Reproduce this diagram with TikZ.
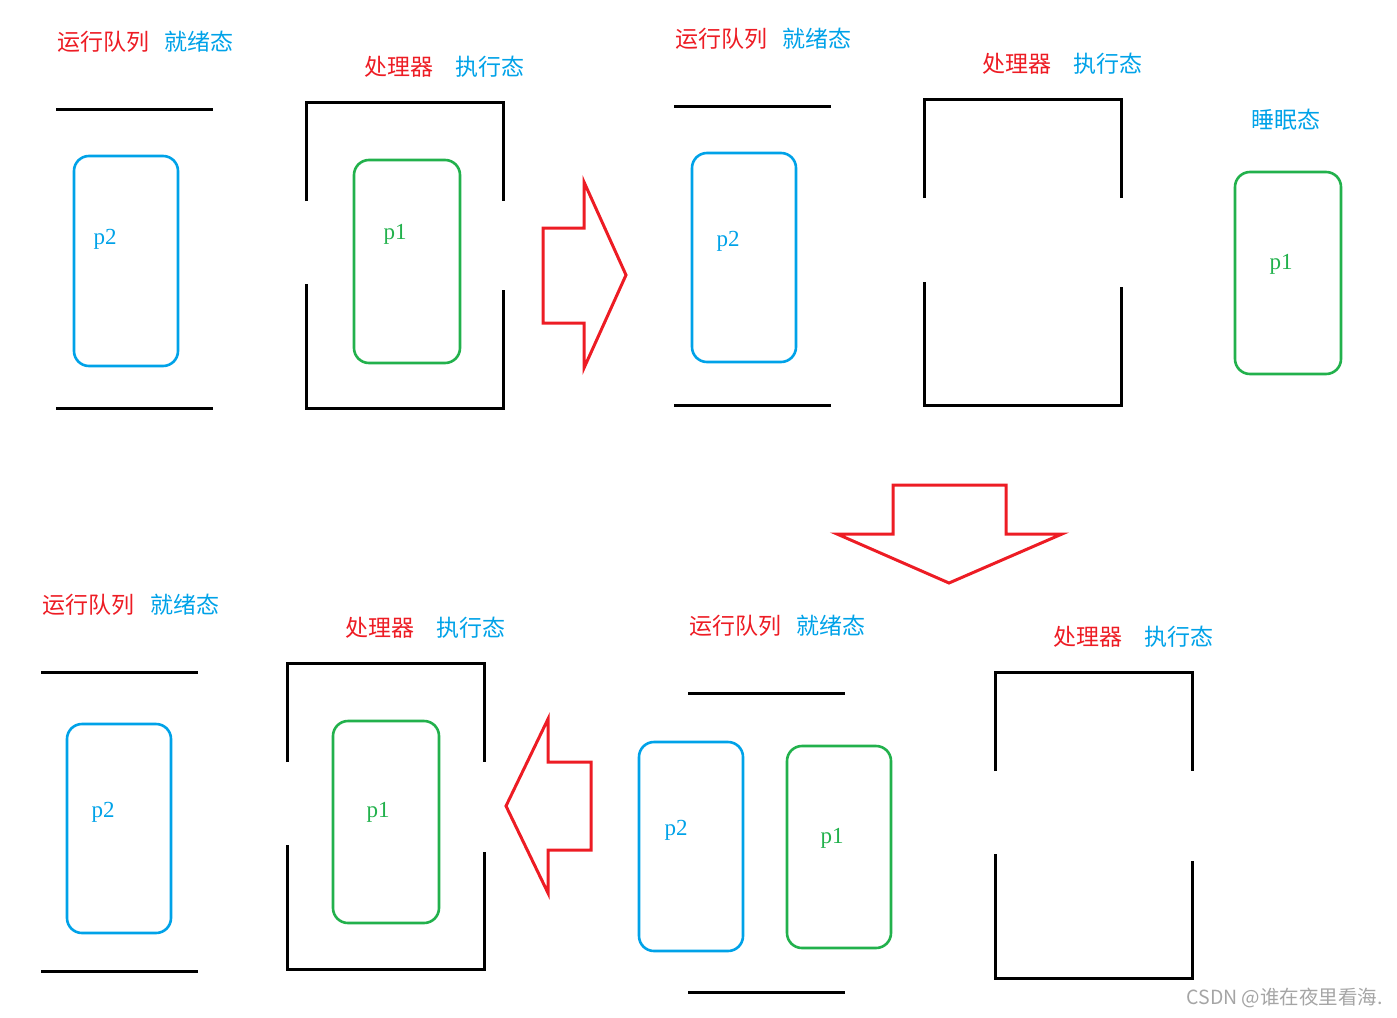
\documentclass[tikz,border=0pt]{standalone}
\usepackage{fontspec}
\newfontfamily\cjk{Noto Sans CJK SC}
\newfontfamily\procfont{Liberation Serif}
\definecolor{pred}{RGB}{237,28,36}
\definecolor{pblue}{RGB}{0,162,232}
\definecolor{pgreen}{RGB}{34,177,76}
\definecolor{markgray}{RGB}{165,165,165}
\tikzset{
    frame line/.style={line width=3pt, black},
    proc box/.style={draw, line width=2.6pt, rounded corners=15pt, inner sep=0pt},
    move arrow/.style={draw=pred, line width=3pt, line join=miter},
    state tag/.style={font=\cjk\fontsize{23}{23}\selectfont, inner sep=0pt, anchor=west},
    proc name/.style={font=\procfont\fontsize{23}{23}\selectfont, inner sep=0pt}
}
\begin{document}
\begin{tikzpicture}[x=1pt, y=-1pt]
    \useasboundingbox (0,0) rectangle (1397,1017);
    % run queue: two bars per panel
    \foreach \xa/\xb/\ya/\yb in {56/213/109/408, 674/831/106/405, 41/198/672/971, 688/845/693/992}
        \draw [frame line] (\xa,\ya) -- (\xb,\ya) (\xa,\yb) -- (\xb,\yb);
    % processor frames, open at both sides
    \foreach \l/\r/\t/\b/\lu/\ld/\ru/\rd in {306/503/102/408/201/284/201/290,
        924/1121/99/405/198/282/198/287, 287/484/663/969/762/845/762/852,
        995/1192/672/978/771/854/771/861}
    {
        \draw [frame line] (\l,\lu) -- (\l,\t) -- (\r,\t) -- (\r,\ru);
        \draw [frame line] (\l,\ld) -- (\l,\b) -- (\r,\b) -- (\r,\rd);
    }
    % processes
    \node [proc box, draw=pblue, minimum width=104pt, minimum height=210pt] (boxA2) at (126,261) {};
    \node [proc box, draw=pgreen, minimum width=106pt, minimum height=203pt] (boxA1) at (407,261.5) {};
    \node [proc box, draw=pblue, minimum width=104pt, minimum height=209pt] (boxB2) at (744,257.5) {};
    \node [proc box, draw=pgreen, minimum width=106pt, minimum height=202pt] (boxB1) at (1288,273) {};
    \node [proc box, draw=pblue, minimum width=104pt, minimum height=209pt] (boxC2) at (119,828.5) {};
    \node [proc box, draw=pgreen, minimum width=106pt, minimum height=202pt] (boxC1) at (386,822) {};
    \node [proc box, draw=pblue, minimum width=104pt, minimum height=209pt] (boxD2) at (691,846.5) {};
    \node [proc box, draw=pgreen, minimum width=104pt, minimum height=202pt] (boxD1) at (839,847) {};
    \node [proc name, text=pblue] (nameA2) at (105,239) {p2};
    \node [proc name, text=pgreen] (nameA1) at (395,234) {p1};
    \node [proc name, text=pblue] (nameB2) at (728,241) {p2};
    \node [proc name, text=pgreen] (nameB1) at (1281,264) {p1};
    \node [proc name, text=pblue] (nameC2) at (103,812) {p2};
    \node [proc name, text=pgreen] (nameC1) at (378,812) {p1};
    \node [proc name, text=pblue] (nameD2) at (676,830) {p2};
    \node [proc name, text=pgreen] (nameD1) at (832,838) {p1};
    % state labels
    \node [state tag, text=pred] (queueA) at (57,42) {运行队列};
    \node [state tag, text=pblue] (readyA) at (164,42) {就绪态};
    \node [state tag, text=pred] (cpuA) at (364,67) {处理器};
    \node [state tag, text=pblue] (runA) at (455,67) {执行态};
    \node [state tag, text=pred] (queueB) at (675,39) {运行队列};
    \node [state tag, text=pblue] (readyB) at (782,39) {就绪态};
    \node [state tag, text=pred] (cpuB) at (982,64) {处理器};
    \node [state tag, text=pblue] (runB) at (1073,64) {执行态};
    \node [state tag, text=pblue] (sleepB) at (1251,120) {睡眠态};
    \node [state tag, text=pred] (queueC) at (42,605) {运行队列};
    \node [state tag, text=pblue] (readyC) at (150,605) {就绪态};
    \node [state tag, text=pred] (cpuC) at (345,628) {处理器};
    \node [state tag, text=pblue] (runC) at (436,628) {执行态};
    \node [state tag, text=pred] (queueD) at (689,626) {运行队列};
    \node [state tag, text=pblue] (readyD) at (796,626) {就绪态};
    \node [state tag, text=pred] (cpuD) at (1053,637) {处理器};
    \node [state tag, text=pblue] (runD) at (1144,637) {执行态};
    % block arrows between the steps
    \draw [move arrow] (543,228) -- (584,228) -- (584,182) -- (626,275) -- (584,368) -- (584,323) -- (543,323) -- cycle;
    \draw [move arrow] (893,485) -- (1006,485) -- (1006,534) -- (1062,534) -- (949,583) -- (837,534) -- (893,534) -- cycle;
    \draw [move arrow] (591,762) -- (548,762) -- (548,719) -- (506,806) -- (548,893) -- (548,850) -- (591,850) -- cycle;
    \node [anchor=east, inner sep=0pt, text=markgray, font=\cjk\fontsize{19.5}{19.5}\selectfont] (mark) at (1383,998) {CSDN @谁在夜里看海.};
\end{tikzpicture}
\end{document}
